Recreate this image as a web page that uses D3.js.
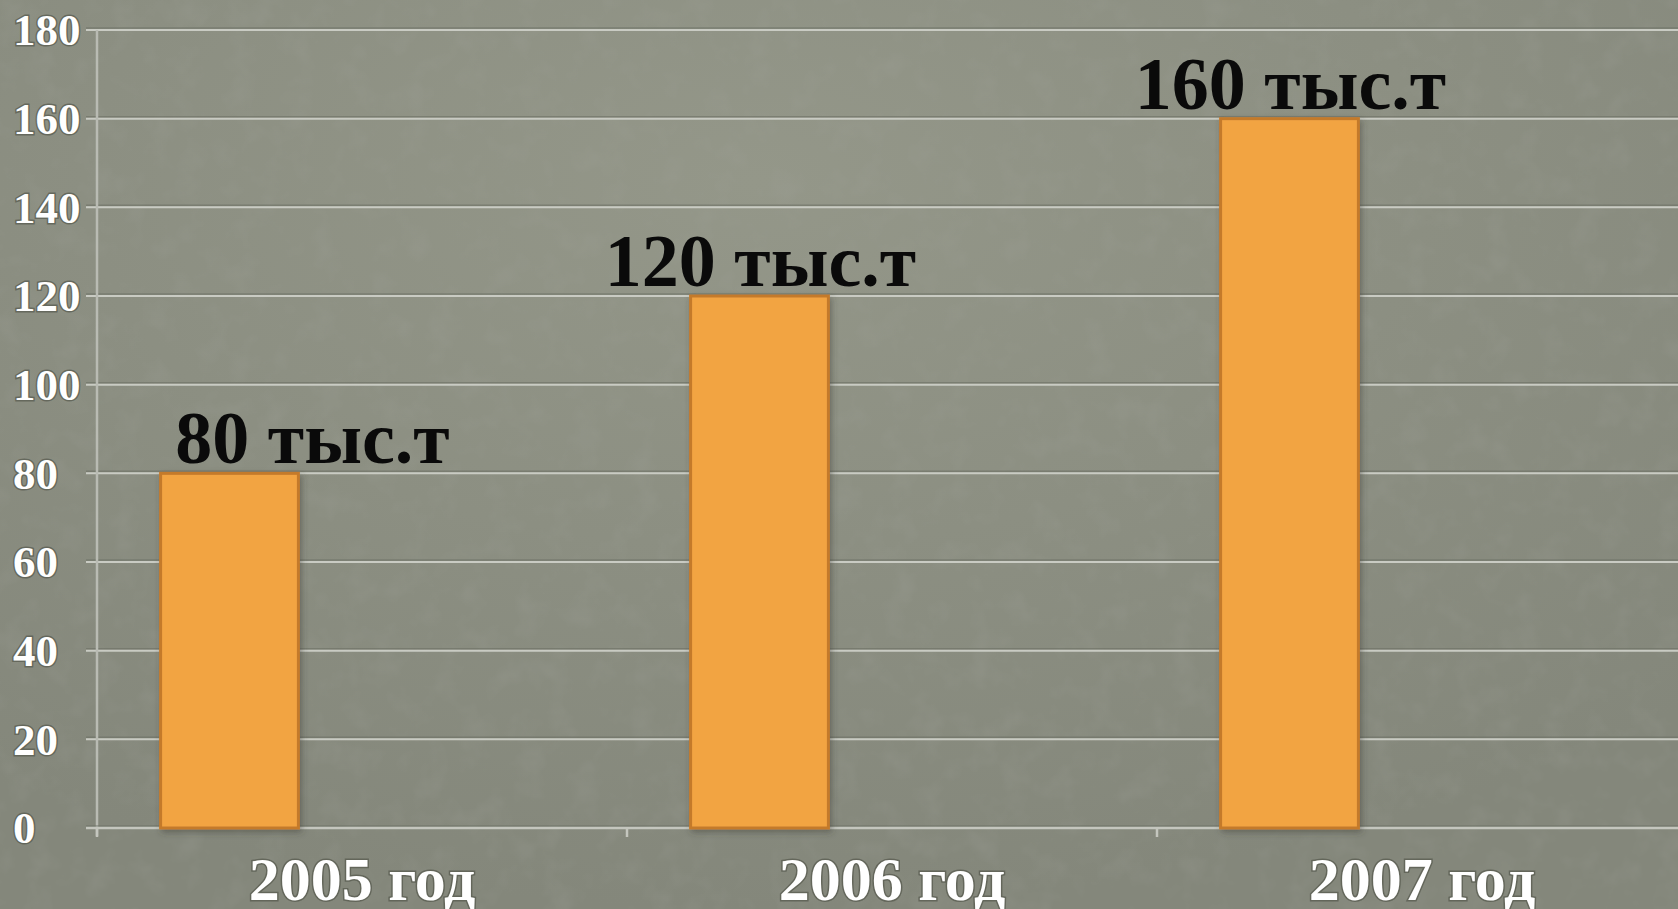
<!DOCTYPE html>
<html>
<head>
<meta charset="utf-8">
<script src="https://cdn.jsdelivr.net/npm/d3@7"></script>
<style>
  html, body { margin: 0; padding: 0; background: #8b8e83; overflow: hidden; }
  svg { display: block; }
</style>
</head>
<body>
<div id="chart-container"></div>
<script>
const categories = ["2005 год", "2006 год", "2007 год"];
const values = [80, 120, 160];
const valueLabels = ["80 тыс.т", "120 тыс.т", "160 тыс.т"];
const yTicks = [0, 20, 40, 60, 80, 100, 120, 140, 160, 180];

const W = 1678, H = 909;
const axisX = 97, zeroY = 828, topY = 30;
const bandW = 530;

const svg = d3.select("#chart-container")
  .append("svg")
    .attr("width", W)
    .attr("height", H);

// background with soft light spot and paper texture
const defs = svg.append("defs");
const grad = defs.append("radialGradient")
  .attr("id", "bg")
  .attr("cx", "45%").attr("cy", "20%").attr("r", "80%");
grad.append("stop").attr("offset", "0%").attr("stop-color", "#949789");
grad.append("stop").attr("offset", "100%").attr("stop-color", "#84877b");

const noise = defs.append("filter").attr("id", "noise")
  .attr("x", 0).attr("y", 0).attr("width", "100%").attr("height", "100%");
noise.append("feTurbulence")
  .attr("type", "fractalNoise")
  .attr("baseFrequency", "0.035")
  .attr("numOctaves", 3)
  .attr("seed", 4);
noise.append("feColorMatrix")
  .attr("type", "matrix")
  .attr("values", "0 0 0 0 0.35  0 0 0 0 0.36  0 0 0 0 0.32  0 0 0 -1.4 0.75");

const shadow = defs.append("filter").attr("id", "barShadow")
  .attr("x", "-10%").attr("y", "-5%").attr("width", "130%").attr("height", "115%");
shadow.append("feDropShadow")
  .attr("dx", 2).attr("dy", 3).attr("stdDeviation", 3)
  .attr("flood-color", "#3a3a30").attr("flood-opacity", 0.45);

svg.append("rect").attr("width", W).attr("height", H).attr("fill", "url(#bg)");
svg.append("rect").attr("width", W).attr("height", H)
  .attr("filter", "url(#noise)").attr("opacity", 0.35);

// scales
const x = d3.scaleBand()
  .domain(categories)
  .range([axisX, axisX + bandW * categories.length])
  .paddingInner(0).paddingOuter(0);

const y = d3.scaleLinear()
  .domain([0, 180])
  .range([zeroY, topY]);

// horizontal gridlines (dark edge + light line)
const grid = svg.append("g");
grid.selectAll("line.dark")
  .data(yTicks.slice(1))
  .join("line")
    .attr("class", "dark")
    .attr("x1", axisX - 11).attr("x2", W)
    .attr("y1", d => y(d) - 2).attr("y2", d => y(d) - 2)
    .attr("stroke", "#6c6f64")
    .attr("stroke-opacity", 0.6)
    .attr("stroke-width", 1.5);
grid.selectAll("line.light")
  .data(yTicks.slice(1))
  .join("line")
    .attr("class", "light")
    .attr("x1", axisX - 11).attr("x2", W)
    .attr("y1", d => y(d)).attr("y2", d => y(d))
    .attr("stroke", "#c9cbc3")
    .attr("stroke-width", 2);

// y axis line
svg.append("line")
  .attr("x1", axisX).attr("x2", axisX)
  .attr("y1", y(180)).attr("y2", zeroY + 8)
  .attr("stroke", "#b9bbb3")
  .attr("stroke-width", 2.5);

// x axis
const xAxis = svg.append("g")
  .attr("transform", `translate(0,${zeroY})`)
  .call(d3.axisBottom(x)
    .tickValues([])
    .tickSizeOuter(0));
xAxis.select(".domain").remove();
xAxis.append("line")
  .attr("x1", axisX - 11).attr("x2", W)
  .attr("y1", -2).attr("y2", -2)
  .attr("stroke", "#6c6f64").attr("stroke-opacity", 0.6).attr("stroke-width", 1.5);
xAxis.append("line")
  .attr("x1", axisX - 11).attr("x2", W)
  .attr("stroke", "#c4c6be").attr("stroke-width", 2.5);
xAxis.selectAll("line.tk")
  .data(categories)
  .join("line")
    .attr("class", "tk")
    .attr("x1", d => x(d)).attr("x2", d => x(d))
    .attr("y1", 0).attr("y2", 9)
    .attr("stroke", "#c4c6be").attr("stroke-width", 2.5);

// y tick labels
svg.append("g")
  .selectAll("text")
  .data(yTicks)
  .join("text")
    .attr("x", 13)
    .attr("y", d => y(d))
    .attr("dy", "0.34em")
    .attr("text-anchor", "start")
    .style("font-family", "'Liberation Serif', 'Times New Roman', serif")
    .style("font-weight", "bold")
    .style("font-size", "45px")
    .style("fill", "#ffffff")
    .style("stroke", "#55584d")
    .style("stroke-width", "3px")
    .style("stroke-opacity", 0.7)
    .style("paint-order", "stroke")
    .text(d => d);

// bars
const barX = d => x(d) + x.bandwidth() * 0.12;
const barW = x.bandwidth() * 0.26;

svg.append("g")
  .selectAll("rect")
  .data(categories)
  .join("rect")
    .attr("x", d => barX(d))
    .attr("y", (d, i) => y(values[i]))
    .attr("width", barW)
    .attr("height", (d, i) => y(0) - y(values[i]))
    .attr("fill", "#f2a443")
    .attr("stroke", "#c47a2c")
    .attr("stroke-width", 3)
    .attr("filter", "url(#barShadow)");

// value labels
svg.append("g")
  .selectAll("text")
  .data(categories)
  .join("text")
    .attr("x", d => barX(d) + barW / 2)
    .attr("dx", (d, i) => i === 0 ? 83 : 1)
    .attr("y", (d, i) => y(values[i]) - 10)
    .attr("text-anchor", "middle")
    .style("font-family", "'Liberation Serif', 'Times New Roman', serif")
    .style("font-weight", "bold")
    .style("font-size", "74px")
    .style("fill", "#0a0a0a")
    .text((d, i) => valueLabels[i]);

// category labels
svg.append("g")
  .selectAll("text")
  .data(categories)
  .join("text")
    .attr("x", d => x(d) + x.bandwidth() / 2)
    .attr("y", 900)
    .attr("text-anchor", "middle")
    .style("font-family", "'Liberation Serif', 'Times New Roman', serif")
    .style("font-weight", "bold")
    .style("font-size", "62px")
    .style("fill", "#ffffff")
    .style("stroke", "#55584d")
    .style("stroke-width", "3px")
    .style("stroke-opacity", 0.7)
    .style("paint-order", "stroke")
    .text(d => d);
</script>
</body>
</html>
